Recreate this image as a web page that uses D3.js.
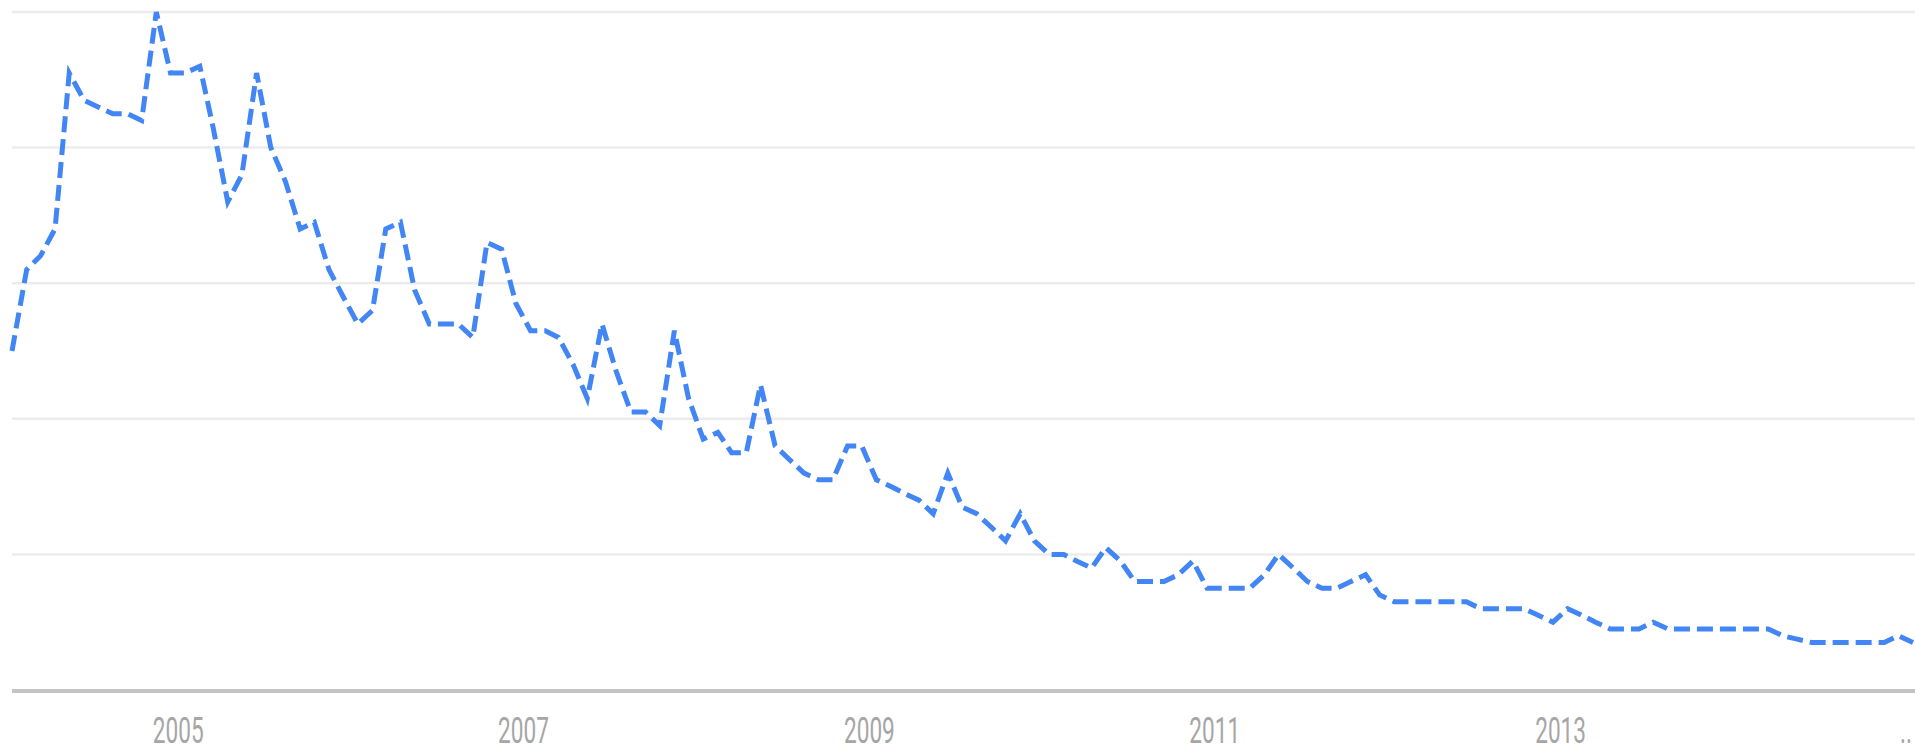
<!DOCTYPE html>
<html>
<head>
<meta charset="utf-8">
<script src="https://cdn.jsdelivr.net/npm/d3@7"></script>
<style>
  html, body { margin: 0; padding: 0; background: #fff; }
  svg { display: block; }
</style>
</head>
<body>
<svg id="chart" width="1915" height="755"></svg>
<script>
// ---- data ----
const startMonth = new Date(2004, 0, 1);
const endMonth = new Date(2015, 0, 1);
const months = d3.timeMonth.range(startMonth, d3.timeMonth.offset(endMonth, 1)); // Jan 2004 .. Jan 2015
const values = [
  50, 62, 64, 68, 91, 87, 86, 85, 85, 84, 100, 91,      // 2004
  91, 92, 83, 72, 76, 91, 80, 75, 68, 69, 62, 58,       // 2005
  54, 56, 68, 69, 59, 54, 54, 54, 52, 66, 65, 57,       // 2006
  53, 53, 52, 48, 43, 54, 47, 41, 41, 39, 53, 43,       // 2007
  37, 38, 35, 35, 45, 36, 34, 32, 31, 31, 36, 36,       // 2008
  31, 30, 29, 28, 26, 32, 27, 26, 24, 22, 26, 22,       // 2009
  20, 20, 19, 18, 21, 19, 16, 16, 16, 17, 19, 15,       // 2010
  15, 15, 15, 17, 20, 18, 16, 15, 15, 16, 17, 14,       // 2011
  13, 13, 13, 13, 13, 13, 12, 12, 12, 12, 11, 10,       // 2012
  12, 11, 10, 9, 9, 9, 10, 9, 9, 9, 9, 9,               // 2013
  9, 9, 9, 8, 7.5, 7, 7, 7, 7, 7, 7, 8,                 // 2014
  7                                                     // 2015
];
const yGridValues = [20, 40, 60, 80, 100];
const tickYears = [2005, 2007, 2009, 2011, 2013, 2015];
const tickLabels = ["2005", "2007", "2009", "2011", "2013", ".."];

// ---- layout ----
const svg = d3.select("#chart");
const plotLeft = 12, plotRight = 1913, plotTop = 12, plotBottom = 690;

const x = d3.scaleTime().domain([startMonth, endMonth]).range([plotLeft, plotRight]);
const y = d3.scaleLinear().domain([0, 100]).range([plotBottom, plotTop]);

// gridlines
svg.append("g")
  .selectAll("line")
  .data(yGridValues)
  .join("line")
  .attr("x1", plotLeft).attr("x2", 1915)
  .attr("y1", d => y(d)).attr("y2", d => y(d))
  .attr("stroke", "#ececec")
  .attr("stroke-width", 2.5);

// baseline axis
svg.append("line")
  .attr("x1", plotLeft).attr("x2", 1915)
  .attr("y1", y(0) + 1).attr("y2", y(0) + 1)
  .attr("stroke", "#c4c4c4")
  .attr("stroke-width", 4);

// x tick labels
svg.append("g")
  .selectAll("text")
  .data(tickYears)
  .join("text")
  .attr("transform", d => `translate(${x(new Date(d, 0, 1)) - 7},743) scale(0.62,1)`)
  .attr("text-anchor", "middle")
  .attr("font-family", "Roboto, 'Liberation Sans', sans-serif")
  .attr("font-size", 36.5)
  .attr("fill", "#a6a6a6")
  .text((d, i) => tickLabels[i]);

// line
const line = d3.line()
  .x((d, i) => x(months[i]))
  .y(d => y(d));

svg.append("path")
  .datum(values)
  .attr("d", line)
  .attr("fill", "none")
  .attr("stroke", "#4285f4")
  .attr("stroke-width", 5)
  .attr("stroke-dasharray", "16,7")
  .attr("stroke-linejoin", "miter");
</script>
</body>
</html>
